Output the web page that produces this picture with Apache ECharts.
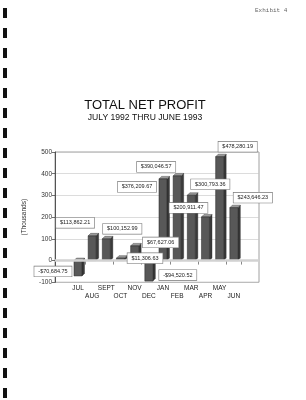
<!DOCTYPE html>
<html>
<head>
<meta charset="utf-8">
<script src="https://cdn.jsdelivr.net/npm/echarts@6/dist/echarts.min.js"></script>
<style>
html,body{margin:0;padding:0;background:#fff;}
#chart{width:306px;height:400px;}
</style>
</head>
<body>
<div id="chart"></div>
<script>
// ---- data ----
const categories = ['JUL','AUG','SEPT','OCT','NOV','DEC','JAN','FEB','MAR','APR','MAY','JUN'];
const netProfit = [-70684.75, 113862.21, 100152.99, 11306.63, 67627.06, -94520.52,
                   376209.67, 390046.57, 300793.36, 200911.47, 478280.19, 243646.23];
const yMin = -100, yMax = 500, yStep = 100; // thousands

// ---- label layout (pixel offsets from bar end, style only) ----
const labelOffsets = [[-25,-4.5],[-17,-13],[16,-10],[24.5,0],[26,-3.5],[29,-6],
                      [-26,8],[-21,-9],[19,-11],[-17,-9],[18,-10],[19,-10]];

function fmtMoney(v){
  const neg = v < 0; const a = Math.abs(v);
  const parts = a.toFixed(2).split('.');
  const int = parts[0].replace(/\B(?=(\d{3})+(?!\d))/g, ',');
  return (neg ? '-' : '') + '$' + int + '.' + parts[1];
}

const chart = echarts.init(document.getElementById('chart'), null, {renderer:'canvas'});
const font = '"Liberation Sans", Arial, sans-serif';

const holes = [];
for (let k = 0; k < 20; k++) {
  holes.push({type:'rect', shape:{x:3, y:8 + 20*k, width:4, height:10}, style:{fill:'#111'}});
}

const barData = netProfit.map((v,i)=>[i, v/1000]);

function renderBar(params, api){
  const i = api.value(0), v = api.value(1);
  const top = api.coord([i, Math.max(v,0)]);
  const bot = api.coord([i, Math.min(v,0)]);
  const cx = top[0], hw = 4, d = 2.5;
  const x1 = cx-hw, x2 = cx+hw, yT = top[1], yB = bot[1];
  return {type:'group', children:[
    {type:'polygon', shape:{points:[[x2,yT],[x2+d,yT-d],[x2+d,yB-d],[x2,yB]]}, style:{fill:'#3a3a3a', stroke:'#222', lineWidth:0.4}},
    {type:'polygon', shape:{points:[[x1,yT],[x1+d,yT-d],[x2+d,yT-d],[x2,yT]]}, style:{fill:'#9a9a9a', stroke:'#333', lineWidth:0.4}},
    {type:'rect', shape:{x:x1, y:yT, width:x2-x1, height:yB-yT}, style:{fill:'#585858', stroke:'#222', lineWidth:0.5}}
  ]};
}

function renderLabel(params, api){
  const i = api.value(0), v = api.value(1);
  const p = api.coord([i, v]);
  const off = labelOffsets[i];
  return {type:'text', z2:100, style:{
    x:p[0]+off[0], y:p[1]+off[1], text: fmtMoney(netProfit[i]),
    align:'center', verticalAlign:'middle',
    fontSize:5.5, fontFamily:font, fill:'#222',
    backgroundColor:'#fff', borderColor:'#777', borderWidth:0.6, padding:[2,4]
  }};
}

chart.setOption({
  animation:false,
  backgroundColor:'#fff',
  title:{
    text:'TOTAL NET PROFIT', subtext:'JULY 1992 THRU JUNE 1993',
    left:145, top:99, textAlign:'center', itemGap:1, padding:0,
    textStyle:{fontSize:13, fontWeight:'normal', color:'#111', fontFamily:font},
    subtextStyle:{fontSize:8.6, color:'#111', fontFamily:font}
  },
  graphic:[
    ...holes,
    {type:'text', style:{x:255, y:10, text:'Exhibit 4', fontSize:6, fontFamily:'"Liberation Mono","DejaVu Sans Mono",monospace', fill:'#666', verticalAlign:'middle'}}
  ],
  grid:[
    {left:55, top:152, width:204, height:130.3, show:true, borderColor:'#888', borderWidth:0.8, backgroundColor:'transparent'},
    {left:70.9, top:152, width:170, height:130.3}
  ],
  xAxis:[
    {gridIndex:0, type:'value', min:0, max:1, show:false},
    {gridIndex:1, type:'category', data:categories,
      axisLine:{show:false},
      axisTick:{show:true, length:4, interval:(idx)=>idx%2===1, lineStyle:{color:'#555', width:0.7}},
      axisLabel:{interval:0, fontSize:6.5, lineHeight:8, margin:2, color:'#222', fontFamily:font,
        formatter:(val, idx)=> idx%2 ? '\n'+val : val}
    }
  ],
  yAxis:[
    {gridIndex:0, type:'value', min:yMin, max:yMax, interval:yStep,
      name:'(Thousands)', nameLocation:'middle', nameGap:22, nameRotate:90,
      nameTextStyle:{fontSize:6.5, color:'#333', fontFamily:font},
      axisLine:{show:true, lineStyle:{color:'#333', width:0.8}},
      axisTick:{show:true, length:3, lineStyle:{color:'#333', width:0.7}},
      axisLabel:{fontSize:6.5, margin:3, color:'#333', fontFamily:font},
      splitLine:{show:true, lineStyle:{color:'#c4c4c4', width:0.6}}
    },
    {gridIndex:1, type:'value', min:yMin, max:yMax, interval:yStep, show:false, splitLine:{show:false}}
  ],
  series:[
    {type:'line', xAxisIndex:0, yAxisIndex:0, data:[[0,0],[1,0]], symbol:'none', silent:true,
      lineStyle:{color:'#d2d2d2', width:2.5}},
    {type:'custom', xAxisIndex:1, yAxisIndex:1, data:barData, renderItem:renderBar, z:3},
    {type:'custom', xAxisIndex:1, yAxisIndex:1, data:barData, renderItem:renderLabel, z:10}
  ]
});
</script>
</body>
</html>
